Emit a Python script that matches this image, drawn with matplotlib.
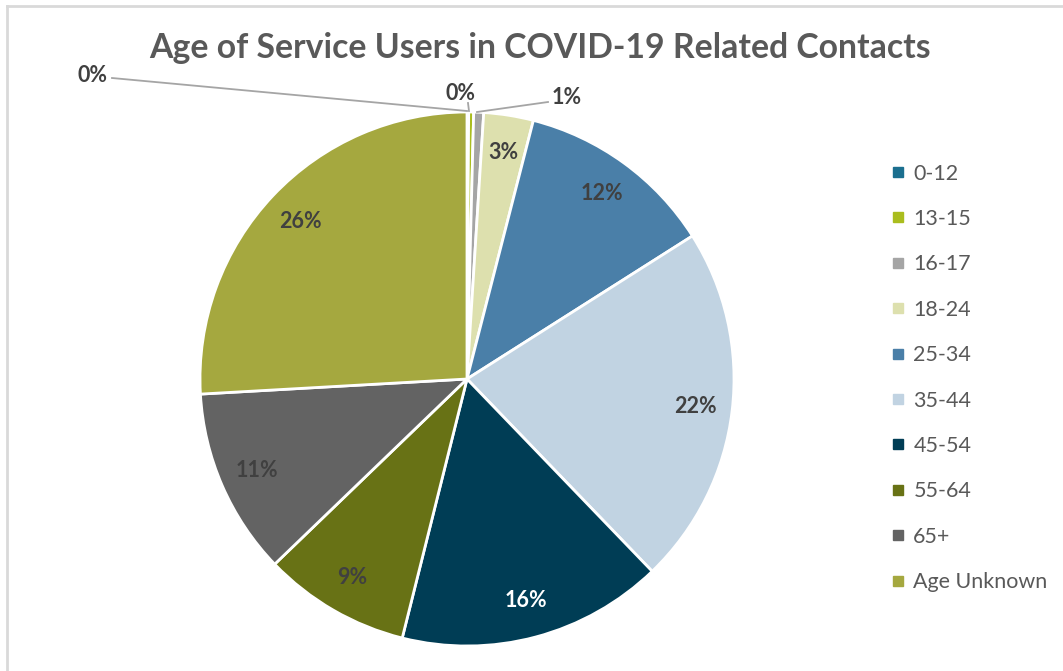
import matplotlib.pyplot as plt
from matplotlib.lines import Line2D

# data
ages = ['0-12', '13-15', '16-17', '18-24', '25-34', '35-44',
        '45-54', '55-64', '65+', 'Age Unknown']
shares = [0.1, 0.3, 0.6, 3.0, 12.0, 21.8, 16.1, 8.9, 11.3, 25.9]
colors = ['#1B6F8F', '#AABD1E', '#A5A5A5', '#DDE0AE', '#4A7FA8',
          '#C1D3E2', '#003D55', '#687215', '#636363', '#A5A83F']

W, H = 1063, 671
fig = plt.figure(figsize=(W / 100, H / 100), dpi=100)
plt.rcParams['font.family'] = ['Lato', 'DejaVu Sans']

# pie center (467, 379) px, radius 267 px, axes limits +-1.25
cx, cy, r = 467, H - 379, 267
half = r * 1.25
ax = fig.add_axes([(cx - half) / W, (cy - half) / H, 2 * half / W, 2 * half / H])

wedges, texts, autotexts = ax.pie(
    shares, colors=colors, startangle=90, counterclock=False,
    autopct='%.0f%%', pctdistance=0.86,
    wedgeprops=dict(edgecolor='white', linewidth=2),
    textprops=dict(fontsize=15.5, fontweight='bold', color='#404040'))
ax.set_xlim(-1.25, 1.25)
ax.set_ylim(-1.25, 1.25)
ax.set_aspect('equal')

autotexts[6].set_color('white')

# small slices get outside labels with leader lines
for i in range(3):
    autotexts[i].set_visible(False)

def px(x, y):
    return ((x - cx) / r, ((H - y) - cy) / r)

lab = [((93, 75), (112, 78), (467, 111)),
       ((460, 93), (468, 103), (469, 111)),
       ((567, 97), (548, 102), (477, 112))]
for i, (tp, p1, p2) in enumerate(lab):
    ax.text(*px(*tp), '%.0f%%' % shares[i], ha='center', va='center',
            fontsize=15.5, fontweight='bold', color='#404040')
    xs, ys = zip(px(*p1), px(*p2))
    ax.plot(xs, ys, color='#A5A5A5', lw=1.3, clip_on=False)

fig.text(540 / W, 1 - 48 / H, 'Age of Service Users in COVID-19 Related Contacts',
         ha='center', va='center', fontsize=24.3, fontweight='bold', color='#595959')

handles = [Line2D([], [], marker='s', ls='', markersize=7.5, color=c) for c in colors]
leg = fig.legend(handles, ages, loc='upper left', bbox_to_anchor=(880 / W, 1 - 155 / H),
                 frameon=False, fontsize=15.5, labelspacing=1.18, handletextpad=0.25,
                 handlelength=0.9, borderaxespad=0)
for t in leg.get_texts():
    t.set_color('#595959')

# chart area border (only top and left visible)
fig.add_artist(Line2D([7 / W, 7 / W], [0, 1 - 6 / H], color='#D9D9D9', lw=2))
fig.add_artist(Line2D([7 / W, 1], [1 - 6 / H, 1 - 6 / H], color='#D9D9D9', lw=2))

fig.savefig('out.png', dpi=100)
